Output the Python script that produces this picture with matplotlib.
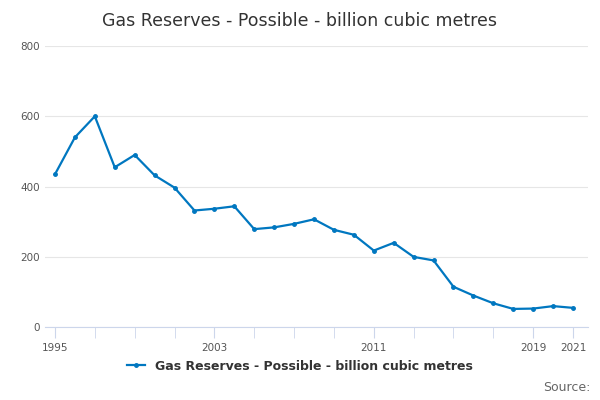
import matplotlib.pyplot as plt

years = list(range(1995, 2022))
values = [435, 540, 600, 455, 490, 432, 397, 332, 337, 344, 279, 284, 294, 307,
          277, 263, 218, 240, 200, 190, 115, 90, 68, 52, 53, 60, 55]
label = 'Gas Reserves - Possible - billion cubic metres'

fig = plt.figure(figsize=(6, 4), dpi=100)
ax = fig.add_axes([0.075, 0.182, 0.905, 0.703])
ax.plot(years, values, color='#0077c0', lw=1.6, marker='o', ms=2.5, label=label)
ax.set_xlim(1994.5, 2021.75)
ax.set_ylim(0, 800)
ax.set_yticks([0, 200, 400, 600, 800])
ax.grid(axis='y', color='#e6e6e6', lw=0.8)
ax.set_axisbelow(True)
ax.set_xticks([1995, 2003, 2011, 2019, 2021])
ax.set_xticks(range(1995, 2022, 2), minor=True)
ax.tick_params(axis='x', which='both', length=8, color='#ccd6eb', labelsize=7.5, labelcolor='#555555')
ax.tick_params(axis='y', length=0, labelsize=7.5, labelcolor='#555555')
for s in ['top', 'right', 'left']:
    ax.spines[s].set_visible(False)
ax.spines['bottom'].set_color('#ccd6eb')
fig.suptitle('Gas Reserves - Possible - billion cubic metres', y=0.97, fontsize=12.5, color='#333333')
leg = fig.legend(loc='lower center', bbox_to_anchor=(0.5, 0.04), frameon=False, fontsize=9,
                 handlelength=1.5)
for t in leg.get_texts():
    t.set_fontweight('bold')
    t.set_color('#333333')
fig.text(0.985, 0.015, 'Source:', ha='right', va='bottom', fontsize=9, color='#666666')
fig.savefig('out.png', dpi=100)
